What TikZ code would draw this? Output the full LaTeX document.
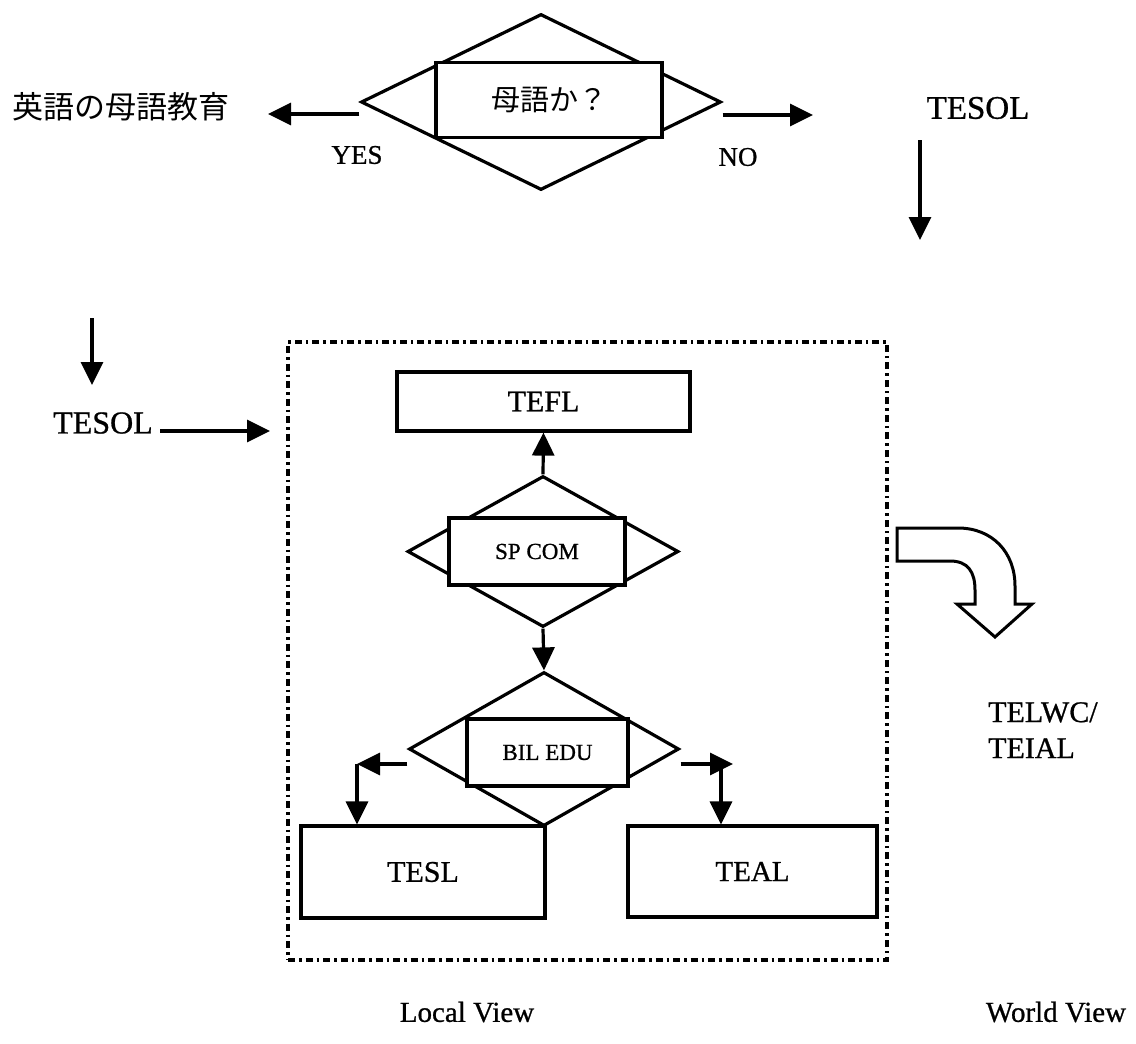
\documentclass[tikz,border=0pt]{standalone}
\usepackage{fontspec}
\setmainfont{Liberation Serif}[FakeBold=0.8]
\newfontfamily\cjk{Noto Sans CJK JP}
\usetikzlibrary{arrows.meta,shapes.geometric}

\tikzset{
  lw/.style={line width=3.2pt},
  box/.style={draw, lw, fill=white, rectangle, inner sep=0pt},
  dia/.style={draw, lw, shape=diamond, inner sep=0pt},
  arr/.style={lw, -{Triangle[length=23pt,width=22pt]}},
  fs/.style={font=\fontsize{#1}{#1}\selectfont},
  frame/.style={draw, lw, dash pattern=on 7pt off 4pt on 2.5pt off 4pt},
  hollow/.style={draw, line width=3pt, fill=white, line join=miter},
}

\begin{document}
\begin{tikzpicture}[x=1pt,y=-1pt]
\useasboundingbox (0,0) rectangle (1136,1044);

% top decision
\node[dia, minimum width=360, minimum height=176] (q1) at (541,102) {};
\node[box, minimum width=226, minimum height=75, fs=29] (q1r) at (549,100) {\cjk 母語か？};

\node[fs=31, inner sep=0pt] (ja) at (121,107) {\cjk 英語の母語教育};
\node[fs=27, inner sep=0pt] (yes) at (357,155) {YES};
\node[fs=27, inner sep=0pt] (no) at (738,157) {NO};
\node[fs=33, inner sep=0pt] (tesolR) at (978,108) {TESOL};

\coordinate (yesEnd) at (268,114);
\coordinate (noEnd) at (813,115);
\draw[arr] ([yshift=-12pt]q1.west) -- (yesEnd);
\draw[arr] ([yshift=-13pt]q1.east) -- (noEnd);

\coordinate (rTop) at (920,140);
\coordinate (rEnd) at (920,240);
\draw[arr] (rTop) -- (rEnd);

% left side
\node[fs=32, inner sep=0pt] (tesolL) at (103,423) {TESOL};
\coordinate (lTop) at (92,318);
\coordinate (lEnd) at (92,385);
\draw[arr] (lTop) -- (lEnd);
\coordinate (inEnd) at (270,431);
\draw[arr] (160,431) -- (inEnd);

% local view frame
\node[frame, minimum width=599, minimum height=618, inner sep=0pt] (frm) at (587.5,651) {};

\node[box, minimum width=293, minimum height=59, fs=30] (tefl) at (543.5,401.5) {TEFL};

\node[dia, minimum width=271, minimum height=151] (q2) at (543,551.5) {};
\node[box, minimum width=176, minimum height=67, fs=23] (q2r) at (537,551.5) {SP COM};

\node[dia, minimum width=270, minimum height=154] (q3) at (544,749) {};
\node[box, minimum width=161, minimum height=67, fs=23] (q3r) at (547.5,752.5) {BIL EDU};

\node[box, minimum width=244, minimum height=92, fs=30] (tesl) at (423,872) {TESL};
\node[box, minimum width=249, minimum height=91, fs=29] (teal) at (752.5,871.5) {TEAL};

\draw[arr] (q2.north) -- (tefl.south);
\draw[arr] (q2.south) -- (q3.north);

\coordinate (lTurn) at (357,764);
\coordinate (rTurn) at (721,764);
\coordinate (rTip) at (733,764);
\draw[arr] (q3.west |- lTurn) -- (lTurn);
\draw[arr] (lTurn) -- (tesl.north -| lTurn);
\draw[arr] (q3.east |- rTip) -- (rTip);
\draw[arr] (rTurn) -- (teal.north -| rTurn);

% curved hollow arrow towards the world view
\draw[hollow] (897,528) -- (958,528)
  .. controls (992,528) and (1015,552) .. (1015,586)
  -- (1015,604) -- (1032,604) -- (995,637) -- (957,604) -- (975,604)
  -- (975,590) .. controls (975,572) and (968,561) .. (950,561)
  -- (897,561) -- cycle;

\node[fs=30, inner sep=0pt, align=left, anchor=north west] (telwc) at (988,702) {TELWC/\\[6pt]TEIAL};

\node[fs=29, inner sep=0pt] (local) at (467,1012) {Local View};
\node[fs=29, inner sep=0pt] (world) at (1056,1012) {World View};
\end{tikzpicture}
\end{document}
